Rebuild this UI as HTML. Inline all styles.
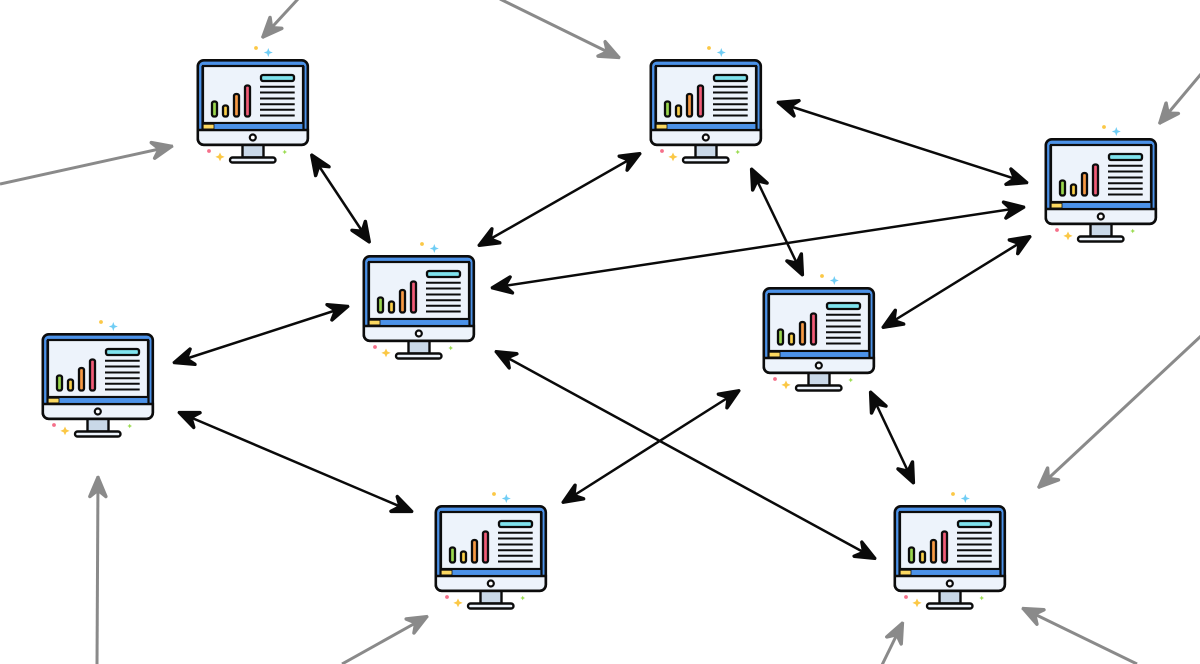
<!DOCTYPE html>
<html><head><meta charset="utf-8"><style>html,body{margin:0;padding:0;background:#fff;width:1200px;height:664px;overflow:hidden}svg{display:block}</style></head><body>
<svg width="1200" height="664" viewBox="0 0 1200 664" xmlns="http://www.w3.org/2000/svg">
<defs>
<marker id="b" markerUnits="userSpaceOnUse" markerWidth="30" markerHeight="30" viewBox="-28 -15 30 30" refX="0" refY="0" orient="auto-start-reverse"><path d="M-1.500 0L-20.500 -8L-14 0L-20.500 8Z" fill="#0a0a0a" stroke="#0a0a0a" stroke-width="3.500" stroke-linejoin="round"/></marker>
<marker id="g" markerUnits="userSpaceOnUse" markerWidth="30" markerHeight="30" viewBox="-28 -15 30 30" refX="0" refY="0" orient="auto"><path d="M-1.500 0L-20.500 -8L-14 0L-20.500 8Z" fill="#8a8a8a" stroke="#8a8a8a" stroke-width="3.500" stroke-linejoin="round"/></marker>
<g id="m">
<circle cx="59" cy="-11.500" r="1.900" fill="#fbc846"/>
<path d="M71.300 -11.500L72.500 -8.200L75.800 -7L72.500 -5.800L71.300 -2.500L70.100 -5.800L66.800 -7L70.100 -8.200Z" fill="#6fcdf5"/>
<circle cx="12" cy="91.500" r="1.900" fill="#f5708a"/>
<path d="M23 93L24.400 96L27.600 97.400L24.400 98.800L23 101.800L21.600 98.800L18.400 97.400L21.600 96Z" fill="#fbc846"/>
<path d="M87.700 90.200L88.500 91.700L90 92.500L88.500 93.300L87.700 94.800L86.900 93.300L85.400 92.500L86.900 91.700Z" fill="#9bdc52"/>
<rect x="45.500" y="85" width="21" height="13" fill="#c9d8e8" stroke="#0c0c0c" stroke-width="2.400"/>
<rect x="33" y="98" width="45.500" height="5" rx="2.500" fill="#edf3fb" stroke="#0c0c0c" stroke-width="2.400"/>
<rect x="0.800" y="0.800" width="110" height="84.500" rx="6" fill="#4c92e8" stroke="#0c0c0c" stroke-width="2.600"/>
<path d="M0.800 70.500H110.800V79.300a6 6 0 0 1-6 6H6.800a6 6 0 0 1-6-6Z" fill="#edf3fb" stroke="#0c0c0c" stroke-width="2.600"/>
<rect x="6" y="6.500" width="100" height="57" fill="#edf3fb" stroke="#0c0c0c" stroke-width="2.200"/>
<rect x="6" y="64.600" width="100" height="4.800" fill="#4c92e8"/>
<rect x="6" y="64.800" width="11" height="4.600" fill="#fbd860" stroke="#0c0c0c" stroke-width="0.800"/>
<path d="M5.500 70V6.500M106.500 70V6.500" stroke="#0c0c0c" stroke-width="2.200" fill="none"/>
<circle cx="55.800" cy="78" r="3" fill="#fff" stroke="#0c0c0c" stroke-width="2.200"/>
<rect x="15" y="42" width="5" height="15" rx="2" fill="#9bd84f" stroke="#0c0c0c" stroke-width="2.300"/>
<rect x="26" y="46" width="5" height="11" rx="2" fill="#fbd04a" stroke="#0c0c0c" stroke-width="2.300"/>
<rect x="37" y="34.500" width="5" height="22.500" rx="2" fill="#f79a45" stroke="#0c0c0c" stroke-width="2.300"/>
<rect x="48" y="26" width="5" height="31" rx="2" fill="#f25c78" stroke="#0c0c0c" stroke-width="2.300"/>
<rect x="64" y="15.500" width="33" height="6" rx="2" fill="#7fe3ee" stroke="#0c0c0c" stroke-width="2.300"/>
<path d="M63 27.300H97.700M63 33H97.700M63 39H97.700M63 44.700H97.700M63 50.300H97.700M63 56H97.700" stroke="#0c0c0c" stroke-width="2" fill="none"/>
</g>
</defs>
<g stroke="#8a8a8a" stroke-width="3" fill="none">
<path d="M298 -1L262 38" marker-end="url(#g)"/>
<path d="M500 -1L620 58" marker-end="url(#g)"/>
<path d="M0 184L173 146" marker-end="url(#g)"/>
<path d="M1201 74L1159 124" marker-end="url(#g)"/>
<path d="M1201 336L1038 488" marker-end="url(#g)"/>
<path d="M97 665L98 476" marker-end="url(#g)"/>
<path d="M342 664L428 616" marker-end="url(#g)"/>
<path d="M882 665L903 622" marker-end="url(#g)"/>
<path d="M1137 664L1022 608" marker-end="url(#g)"/>
</g>
<g stroke="#0a0a0a" stroke-width="2.500" fill="none">
<path d="M311 154L370 243" marker-start="url(#b)" marker-end="url(#b)"/>
<path d="M641 153L478 246" marker-start="url(#b)" marker-end="url(#b)"/>
<path d="M777 102L1028 183" marker-start="url(#b)" marker-end="url(#b)"/>
<path d="M751 168L803 276" marker-start="url(#b)" marker-end="url(#b)"/>
<path d="M1025 207L491 288" marker-start="url(#b)" marker-end="url(#b)"/>
<path d="M1031 236L882 328" marker-start="url(#b)" marker-end="url(#b)"/>
<path d="M349 306L173 363" marker-start="url(#b)" marker-end="url(#b)"/>
<path d="M178 412L413 512" marker-start="url(#b)" marker-end="url(#b)"/>
<path d="M495 351L876 559" marker-start="url(#b)" marker-end="url(#b)"/>
<path d="M740 390L562 503" marker-start="url(#b)" marker-end="url(#b)"/>
<path d="M870 391L914 484" marker-start="url(#b)" marker-end="url(#b)"/>
</g>
<use href="#m" x="197" y="59.500"/>
<use href="#m" x="650" y="59.500"/>
<use href="#m" x="1045" y="138.500"/>
<use href="#m" x="363" y="255.500"/>
<use href="#m" x="763" y="287.500"/>
<use href="#m" x="42" y="333.500"/>
<use href="#m" x="435" y="505.500"/>
<use href="#m" x="894" y="505.500"/>
</svg>
</body></html>
